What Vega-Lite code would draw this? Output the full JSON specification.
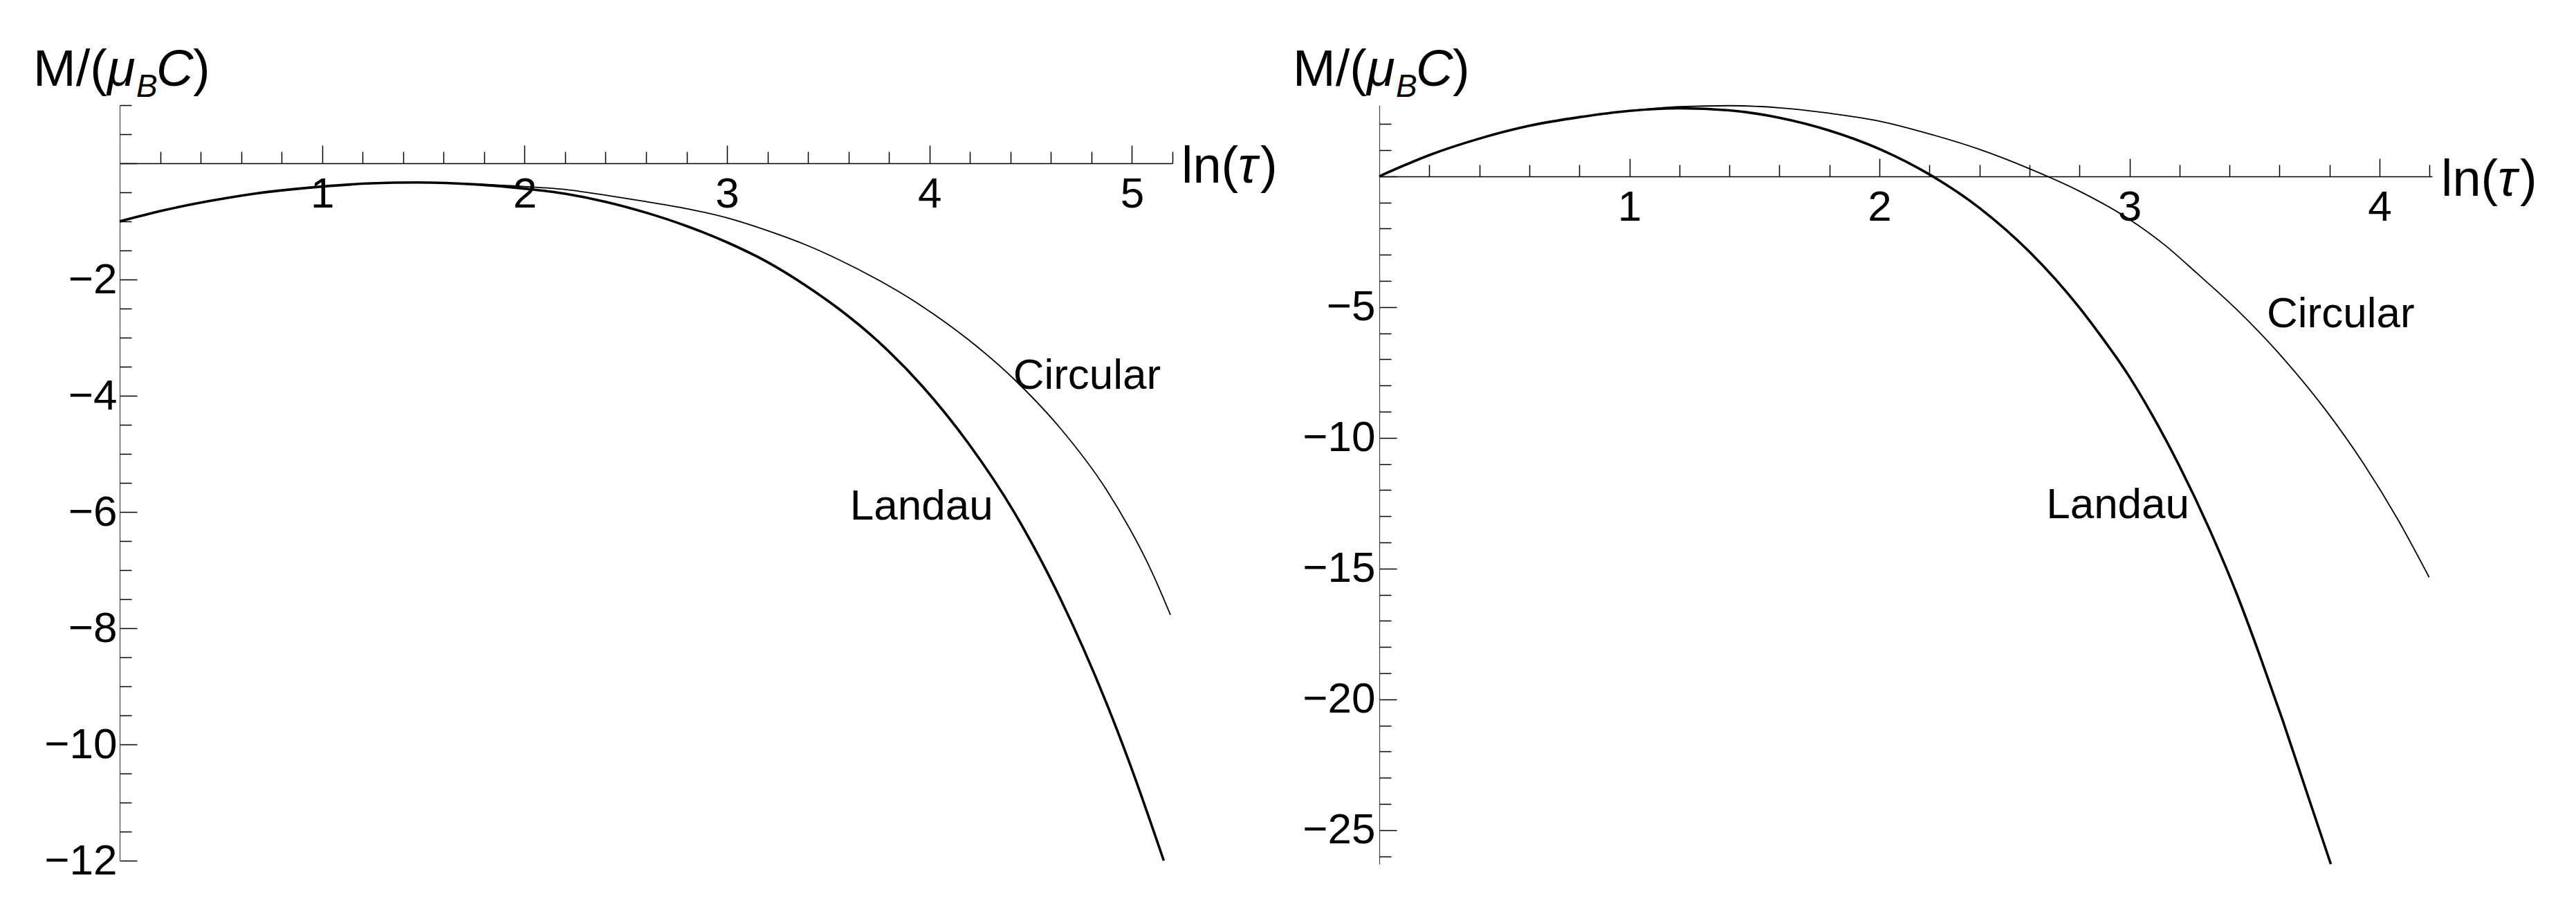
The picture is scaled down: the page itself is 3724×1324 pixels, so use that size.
{
  "$schema": "https://vega.github.io/schema/vega-lite/v6.json",
  "background": "white",
  "autosize": {"type": "pad"},
  "padding": {"left": 48, "top": 65, "right": 10, "bottom": 10},
  "config": {"view": {"stroke": null}, "font": "Liberation Sans", "axis": {"grid": false, "title": null}},
  "spacing": 299,
  "bounds": "flush",
  "datasets": {
    "left": [
      {"curve": "Landau", "x": 0, "y": -1.0}, {"curve": "Landau", "x": 0.217, "y": -0.81}, {"curve": "Landau", "x": 0.443, "y": -0.65}, {"curve": "Landau", "x": 0.671, "y": -0.52}, {"curve": "Landau", "x": 1.0, "y": -0.40}, {"curve": "Landau", "x": 1.241, "y": -0.345}, {"curve": "Landau", "x": 1.469, "y": -0.33}, {"curve": "Landau", "x": 1.765, "y": -0.365}, {"curve": "Landau", "x": 2.0, "y": -0.436}, {"curve": "Landau", "x": 2.2, "y": -0.524}, {"curve": "Landau", "x": 2.4, "y": -0.663}, {"curve": "Landau", "x": 2.6, "y": -0.85}, {"curve": "Landau", "x": 2.8, "y": -1.08}, {"curve": "Landau", "x": 3.0, "y": -1.36}, {"curve": "Landau", "x": 3.2, "y": -1.70}, {"curve": "Landau", "x": 3.4, "y": -2.13}, {"curve": "Landau", "x": 3.55, "y": -2.50}, {"curve": "Landau", "x": 3.735, "y": -3.03}, {"curve": "Landau", "x": 3.963, "y": -3.83}, {"curve": "Landau", "x": 4.19, "y": -4.81}, {"curve": "Landau", "x": 4.419, "y": -6.01}, {"curve": "Landau", "x": 4.646, "y": -7.49}, {"curve": "Landau", "x": 4.874, "y": -9.29}, {"curve": "Landau", "x": 4.988, "y": -10.32}, {"curve": "Landau", "x": 5.157, "y": -12.0},
      {"curve": "Circular", "x": 0, "y": -1.0}, {"curve": "Circular", "x": 0.217, "y": -0.81}, {"curve": "Circular", "x": 0.443, "y": -0.65}, {"curve": "Circular", "x": 0.671, "y": -0.52}, {"curve": "Circular", "x": 1.0, "y": -0.40}, {"curve": "Circular", "x": 1.241, "y": -0.345}, {"curve": "Circular", "x": 1.469, "y": -0.33}, {"curve": "Circular", "x": 1.765, "y": -0.36}, {"curve": "Circular", "x": 2.0, "y": -0.40}, {"curve": "Circular", "x": 2.2, "y": -0.45}, {"curve": "Circular", "x": 2.4, "y": -0.55}, {"curve": "Circular", "x": 2.6, "y": -0.66}, {"curve": "Circular", "x": 2.8, "y": -0.78}, {"curve": "Circular", "x": 3.0, "y": -0.94}, {"curve": "Circular", "x": 3.2, "y": -1.16}, {"curve": "Circular", "x": 3.4, "y": -1.42}, {"curve": "Circular", "x": 3.553, "y": -1.66}, {"curve": "Circular", "x": 3.735, "y": -1.985}, {"curve": "Circular", "x": 3.963, "y": -2.46}, {"curve": "Circular", "x": 4.19, "y": -3.03}, {"curve": "Circular", "x": 4.419, "y": -3.72}, {"curve": "Circular", "x": 4.646, "y": -4.56}, {"curve": "Circular", "x": 4.874, "y": -5.62}, {"curve": "Circular", "x": 5.102, "y": -7.06}, {"curve": "Circular", "x": 5.19, "y": -7.77}
    ],
    "right": [
      {"curve": "Landau", "x": 0, "y": 0}, {"curve": "Landau", "x": 0.2, "y": 0.81}, {"curve": "Landau", "x": 0.4, "y": 1.44}, {"curve": "Landau", "x": 0.6, "y": 1.93}, {"curve": "Landau", "x": 0.8, "y": 2.26}, {"curve": "Landau", "x": 1.0, "y": 2.50}, {"curve": "Landau", "x": 1.2, "y": 2.60}, {"curve": "Landau", "x": 1.4, "y": 2.52}, {"curve": "Landau", "x": 1.6, "y": 2.24}, {"curve": "Landau", "x": 1.8, "y": 1.75}, {"curve": "Landau", "x": 2.0, "y": 1.045}, {"curve": "Landau", "x": 2.2, "y": 0.07}, {"curve": "Landau", "x": 2.4, "y": -1.21}, {"curve": "Landau", "x": 2.6, "y": -2.89}, {"curve": "Landau", "x": 2.8, "y": -5.03}, {"curve": "Landau", "x": 2.875, "y": -5.97}, {"curve": "Landau", "x": 2.995, "y": -7.60}, {"curve": "Landau", "x": 3.089, "y": -9.10}, {"curve": "Landau", "x": 3.198, "y": -11.05}, {"curve": "Landau", "x": 3.336, "y": -13.85}, {"curve": "Landau", "x": 3.428, "y": -15.95}, {"curve": "Landau", "x": 3.52, "y": -18.30}, {"curve": "Landau", "x": 3.612, "y": -20.79}, {"curve": "Landau", "x": 3.705, "y": -23.45}, {"curve": "Landau", "x": 3.805, "y": -26.3},
      {"curve": "Circular", "x": 0, "y": 0}, {"curve": "Circular", "x": 0.2, "y": 0.81}, {"curve": "Circular", "x": 0.4, "y": 1.44}, {"curve": "Circular", "x": 0.6, "y": 1.93}, {"curve": "Circular", "x": 0.8, "y": 2.26}, {"curve": "Circular", "x": 1.0, "y": 2.50}, {"curve": "Circular", "x": 1.2, "y": 2.66}, {"curve": "Circular", "x": 1.4, "y": 2.70}, {"curve": "Circular", "x": 1.6, "y": 2.62}, {"curve": "Circular", "x": 1.8, "y": 2.41}, {"curve": "Circular", "x": 2.0, "y": 2.11}, {"curve": "Circular", "x": 2.2, "y": 1.62}, {"curve": "Circular", "x": 2.4, "y": 1.03}, {"curve": "Circular", "x": 2.6, "y": 0.29}, {"curve": "Circular", "x": 2.8, "y": -0.57}, {"curve": "Circular", "x": 3.0, "y": -1.65}, {"curve": "Circular", "x": 3.14, "y": -2.62}, {"curve": "Circular", "x": 3.271, "y": -3.72}, {"curve": "Circular", "x": 3.428, "y": -5.09}, {"curve": "Circular", "x": 3.612, "y": -6.93}, {"curve": "Circular", "x": 3.779, "y": -8.87}, {"curve": "Circular", "x": 3.936, "y": -10.99}, {"curve": "Circular", "x": 4.074, "y": -13.14}, {"curve": "Circular", "x": 4.198, "y": -15.33}
    ],
    "leftLabels": [{"x": 4.413, "y": -3.88, "text": "Circular"}, {"x": 3.607, "y": -6.13, "text": "Landau"}],
    "rightLabels": [{"x": 3.549, "y": -5.76, "text": "Circular"}, {"x": 2.667, "y": -13.08, "text": "Landau"}]
  },
  "hconcat": [
    {
      "width": 1522,
      "height": 1092,
      "resolve": {"axis": {"x": "independent", "y": "independent"}},
      "layer": [
        {
          "data": {"name": "left"},
          "mark": {"type": "line", "color": "black", "strokeCap": "butt", "interpolate": "monotone"},
          "encoding": {
            "x": {"field": "x", "type": "quantitative", "scale": {"domain": [0, 5.2], "nice": false, "zero": false},
              "axis": {"orient": "top", "offset": -84, "values": [1, 2, 3, 4, 5], "tickSize": 26, "tickWidth": 1.5, "tickColor": "black", "domainColor": "black", "domainWidth": 1.6,
                "labelExpr": "format(datum.value, 'd')", "labelFontSize": 62, "labelFont": "Liberation Sans", "labelColor": "black", "labelBaseline": "top", "labelPadding": -40, "labelOverlap": false, "labelFlush": false, "title": null}},
            "y": {"field": "y", "type": "quantitative", "scale": {"domain": [-12, 1], "nice": false, "zero": false},
              "axis": {"orient": "left", "values": [0, -2, -4, -6, -8, -10, -12], "tickSize": -25, "tickWidth": 1.5, "tickColor": "black", "domainColor": "#444", "domainWidth": 1.2,
                "labelExpr": "datum.value === 0 ? '' : format(datum.value, 'd')", "labelFontSize": 62, "labelFont": "Liberation Sans", "labelColor": "black", "labelBaseline": "middle", "labelAlign": "right", "labelPadding": 29, "labelOverlap": false, "labelFlush": false, "title": null}},
            "detail": {"field": "curve", "type": "nominal"},
            "strokeWidth": {"field": "curve", "type": "ordinal", "scale": {"domain": ["Landau", "Circular"], "range": [3.6, 1.8]}, "legend": null}
          }
        },
        {
          "data": {"name": "leftLabels"},
          "mark": {"type": "text", "align": "left", "baseline": "alphabetic", "fontSize": 62, "font": "Liberation Sans", "color": "black"},
          "encoding": {
            "x": {"field": "x", "type": "quantitative",
              "axis": {"orient": "top", "offset": -84, "values": [0.2,0.4,0.6,0.8,1.2,1.4,1.6,1.8,2.2,2.4,2.6,2.8,3.2,3.4,3.6,3.8,4.2,4.4,4.6,4.8,5.2], "tickSize": 17, "tickWidth": 1.5, "tickColor": "black", "domain": false, "labels": false, "title": null}},
            "y": {"field": "y", "type": "quantitative",
              "axis": {"orient": "left", "values": [1,0.5,-0.5,-1,-1.5,-2.5,-3,-3.5,-4.5,-5,-5.5,-6.5,-7,-7.5,-8.5,-9,-9.5,-10.5,-11,-11.5], "tickSize": -17, "tickWidth": 1.5, "tickColor": "black", "domain": false, "labels": false, "title": null}},
            "text": {"field": "text"}
          }
        },
        {"data": {"values": [{}]}, "mark": {"type": "text", "text": "M/(", "align": "left", "baseline": "alphabetic", "fontSize": 74, "color": "black", "dx": -125, "dy": -28}, "encoding": {"x": {"datum": 0, "type": "quantitative", "axis": null}, "y": {"datum": 1, "type": "quantitative", "axis": null}}},
        {"data": {"values": [{}]}, "mark": {"type": "text", "text": "μ", "align": "left", "baseline": "alphabetic", "fontSize": 74, "fontStyle": "italic", "color": "black", "dx": -18, "dy": -28}, "encoding": {"x": {"datum": 0, "type": "quantitative", "axis": null}, "y": {"datum": 1, "type": "quantitative", "axis": null}}},
        {"data": {"values": [{}]}, "mark": {"type": "text", "text": "B", "align": "left", "baseline": "alphabetic", "fontSize": 46, "fontStyle": "italic", "color": "black", "dx": 24, "dy": -12}, "encoding": {"x": {"datum": 0, "type": "quantitative", "axis": null}, "y": {"datum": 1, "type": "quantitative", "axis": null}}},
        {"data": {"values": [{}]}, "mark": {"type": "text", "text": "C", "align": "left", "baseline": "alphabetic", "fontSize": 74, "fontStyle": "italic", "color": "black", "dx": 53, "dy": -28}, "encoding": {"x": {"datum": 0, "type": "quantitative", "axis": null}, "y": {"datum": 1, "type": "quantitative", "axis": null}}},
        {"data": {"values": [{}]}, "mark": {"type": "text", "text": ")", "align": "left", "baseline": "alphabetic", "fontSize": 74, "color": "black", "dx": 106, "dy": -28}, "encoding": {"x": {"datum": 0, "type": "quantitative", "axis": null}, "y": {"datum": 1, "type": "quantitative", "axis": null}}},
        {"data": {"values": [{}]}, "mark": {"type": "text", "text": "ln(", "align": "left", "baseline": "alphabetic", "fontSize": 74, "color": "black", "dx": 13, "dy": 28}, "encoding": {"x": {"datum": 5.2, "type": "quantitative", "axis": null}, "y": {"datum": 0, "type": "quantitative", "axis": null}}},
        {"data": {"values": [{}]}, "mark": {"type": "text", "text": "τ", "align": "left", "baseline": "alphabetic", "fontSize": 74, "fontStyle": "italic", "color": "black", "dx": 95, "dy": 28}, "encoding": {"x": {"datum": 5.2, "type": "quantitative", "axis": null}, "y": {"datum": 0, "type": "quantitative", "axis": null}}},
        {"data": {"values": [{}]}, "mark": {"type": "text", "text": ")", "align": "left", "baseline": "alphabetic", "fontSize": 74, "color": "black", "dx": 127, "dy": 28}, "encoding": {"x": {"datum": 5.2, "type": "quantitative", "axis": null}, "y": {"datum": 0, "type": "quantitative", "axis": null}}}
      ]
    },
    {
      "width": 1522,
      "height": 1097,
      "resolve": {"axis": {"x": "independent", "y": "independent"}},
      "layer": [
        {
          "data": {"name": "right"},
          "mark": {"type": "line", "color": "black", "strokeCap": "butt", "interpolate": "monotone"},
          "encoding": {
            "x": {"field": "x", "type": "quantitative", "scale": {"domain": [0, 4.21], "nice": false, "zero": false},
              "axis": {"orient": "top", "offset": -103, "values": [1, 2, 3, 4], "tickSize": 26, "tickWidth": 1.5, "tickColor": "black", "domainColor": "black", "domainWidth": 1.6,
                "labelExpr": "format(datum.value, 'd')", "labelFontSize": 62, "labelFont": "Liberation Sans", "labelColor": "black", "labelBaseline": "top", "labelPadding": -40, "labelOverlap": false, "labelFlush": false, "title": null}},
            "y": {"field": "y", "type": "quantitative", "scale": {"domain": [-26.3, 2.72], "nice": false, "zero": false},
              "axis": {"orient": "left", "values": [0, -5, -10, -15, -20, -25], "tickSize": -25, "tickWidth": 1.5, "tickColor": "black", "domainColor": "#444", "domainWidth": 1.2,
                "labelExpr": "datum.value === 0 ? '' : format(datum.value, 'd')", "labelFontSize": 62, "labelFont": "Liberation Sans", "labelColor": "black", "labelBaseline": "middle", "labelAlign": "right", "labelPadding": 31, "labelOverlap": false, "labelFlush": false, "title": null}},
            "detail": {"field": "curve", "type": "nominal"},
            "strokeWidth": {"field": "curve", "type": "ordinal", "scale": {"domain": ["Landau", "Circular"], "range": [3.6, 1.8]}, "legend": null}
          }
        },
        {
          "data": {"name": "rightLabels"},
          "mark": {"type": "text", "align": "left", "baseline": "alphabetic", "fontSize": 62, "font": "Liberation Sans", "color": "black"},
          "encoding": {
            "x": {"field": "x", "type": "quantitative",
              "axis": {"orient": "top", "offset": -103, "values": [0.2,0.4,0.6,0.8,1.2,1.4,1.6,1.8,2.2,2.4,2.6,2.8,3.2,3.4,3.6,3.8,4.2], "tickSize": 17, "tickWidth": 1.5, "tickColor": "black", "domain": false, "labels": false, "title": null}},
            "y": {"field": "y", "type": "quantitative",
              "axis": {"orient": "left", "values": [2,1,-1,-2,-3,-4,-6,-7,-8,-9,-11,-12,-13,-14,-16,-17,-18,-19,-21,-22,-23,-24,-26], "tickSize": -17, "tickWidth": 1.5, "tickColor": "black", "domain": false, "labels": false, "title": null}},
            "text": {"field": "text"}
          }
        },
        {"data": {"values": [{}]}, "mark": {"type": "text", "text": "M/(", "align": "left", "baseline": "alphabetic", "fontSize": 74, "color": "black", "dx": -125, "dy": -28}, "encoding": {"x": {"datum": 0, "type": "quantitative", "axis": null}, "y": {"datum": 2.72, "type": "quantitative", "axis": null}}},
        {"data": {"values": [{}]}, "mark": {"type": "text", "text": "μ", "align": "left", "baseline": "alphabetic", "fontSize": 74, "fontStyle": "italic", "color": "black", "dx": -18, "dy": -28}, "encoding": {"x": {"datum": 0, "type": "quantitative", "axis": null}, "y": {"datum": 2.72, "type": "quantitative", "axis": null}}},
        {"data": {"values": [{}]}, "mark": {"type": "text", "text": "B", "align": "left", "baseline": "alphabetic", "fontSize": 46, "fontStyle": "italic", "color": "black", "dx": 24, "dy": -12}, "encoding": {"x": {"datum": 0, "type": "quantitative", "axis": null}, "y": {"datum": 2.72, "type": "quantitative", "axis": null}}},
        {"data": {"values": [{}]}, "mark": {"type": "text", "text": "C", "align": "left", "baseline": "alphabetic", "fontSize": 74, "fontStyle": "italic", "color": "black", "dx": 53, "dy": -28}, "encoding": {"x": {"datum": 0, "type": "quantitative", "axis": null}, "y": {"datum": 2.72, "type": "quantitative", "axis": null}}},
        {"data": {"values": [{}]}, "mark": {"type": "text", "text": ")", "align": "left", "baseline": "alphabetic", "fontSize": 74, "color": "black", "dx": 106, "dy": -28}, "encoding": {"x": {"datum": 0, "type": "quantitative", "axis": null}, "y": {"datum": 2.72, "type": "quantitative", "axis": null}}},
        {"data": {"values": [{}]}, "mark": {"type": "text", "text": "ln(", "align": "left", "baseline": "alphabetic", "fontSize": 74, "color": "black", "dx": 13, "dy": 28}, "encoding": {"x": {"datum": 4.21, "type": "quantitative", "axis": null}, "y": {"datum": 0, "type": "quantitative", "axis": null}}},
        {"data": {"values": [{}]}, "mark": {"type": "text", "text": "τ", "align": "left", "baseline": "alphabetic", "fontSize": 74, "fontStyle": "italic", "color": "black", "dx": 95, "dy": 28}, "encoding": {"x": {"datum": 4.21, "type": "quantitative", "axis": null}, "y": {"datum": 0, "type": "quantitative", "axis": null}}},
        {"data": {"values": [{}]}, "mark": {"type": "text", "text": ")", "align": "left", "baseline": "alphabetic", "fontSize": 74, "color": "black", "dx": 127, "dy": 28}, "encoding": {"x": {"datum": 4.21, "type": "quantitative", "axis": null}, "y": {"datum": 0, "type": "quantitative", "axis": null}}}
      ]
    }
  ]
}
